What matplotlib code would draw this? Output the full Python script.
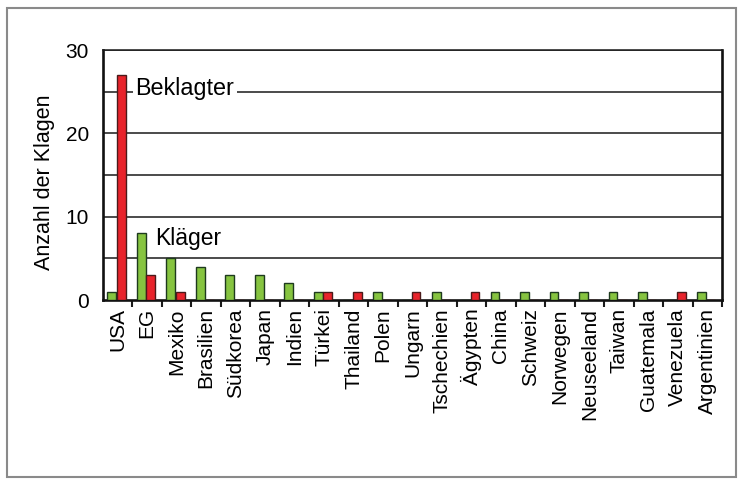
import matplotlib
matplotlib.use("Agg")
import matplotlib.pyplot as plt
from matplotlib.patches import Rectangle
import numpy as np

plt.rcParams['font.family'] = ['Liberation Sans', 'DejaVu Sans']

countries = ["USA", "EG", "Mexiko", "Brasilien", "Südkorea", "Japan", "Indien",
             "Türkei", "Thailand", "Polen", "Ungarn", "Tschechien", "Ägypten",
             "China", "Schweiz", "Norwegen", "Neuseeland", "Taiwan", "Guatemala",
             "Venezuela", "Argentinien"]
klaeger = [1, 8, 5, 4, 3, 3, 2, 1, 0, 1, 0, 1, 0, 1, 1, 1, 1, 1, 1, 0, 1]
beklagter = [27, 3, 1, 0, 0, 0, 0, 1, 1, 0, 1, 0, 1, 0, 0, 0, 0, 0, 0, 1, 0]
yticks = [0, 10, 20, 30]
grid_levels = [5, 10, 15, 20, 25, 30]

W, H = 743, 487
fig = plt.figure(figsize=(W / 100, H / 100), dpi=100)
fig.patches.append(Rectangle((7 / W, 1 - 477 / H), 729 / W, 469 / H,
                             transform=fig.transFigure, fill=False,
                             edgecolor='#8a8a8a', lw=1.5))

ax = fig.add_axes([103 / W, 1 - 300 / H, 619 / W, 250 / H])
x = np.arange(len(countries))

for g in grid_levels:
    ax.axhline(g, color='#1a1a1a', lw=1.1, zorder=1)

green = '#86c440'
red = '#e8232b'
ax.bar(x - 0.2, klaeger, width=0.3, color=green, edgecolor='#1e3a1e', lw=1.0, zorder=3)
ax.bar(x + 0.12, beklagter, width=0.3, color=red, edgecolor='#4a1a1a', lw=1.0, zorder=3)

ax.set_xlim(-0.5, len(countries) - 0.5)
ax.set_ylim(0, 30)

ax.set_xticks(x + 0.5)
ax.set_xticklabels([])
ax.set_xticks(x, minor=True)
ax.set_xticklabels(countries, minor=True, rotation=90, fontsize=15)
ax.tick_params(axis='x', which='major', direction='out', length=5, width=1.5, color='#1a1a1a')
ax.tick_params(axis='x', which='minor', length=0, pad=6)
ax.set_xlim(-0.5, len(countries) - 0.5)

ax.set_yticks(yticks)
ax.set_yticklabels([str(v) for v in yticks], fontsize=15)
ax.tick_params(axis='y', length=0, pad=10)

for s in ['left', 'bottom', 'right']:
    ax.spines[s].set_linewidth(1.9)
    ax.spines[s].set_color('#111111')
ax.spines['top'].set_linewidth(1.1)
ax.spines['top'].set_color('#1a1a1a')

ax.set_ylabel("Anzahl der Klagen", fontsize=15.5)
ax.yaxis.set_label_coords(-0.078, 0.47)

ax.text(0.6, 25.4, "Beklagter", fontsize=16.8, va='center', ha='left', zorder=4,
        bbox=dict(facecolor='white', edgecolor='none', pad=2))
ax.text(1.26, 7.4, "Kläger", fontsize=16.5, va='center', ha='left', zorder=4)

fig.savefig("out.png", dpi=100)
